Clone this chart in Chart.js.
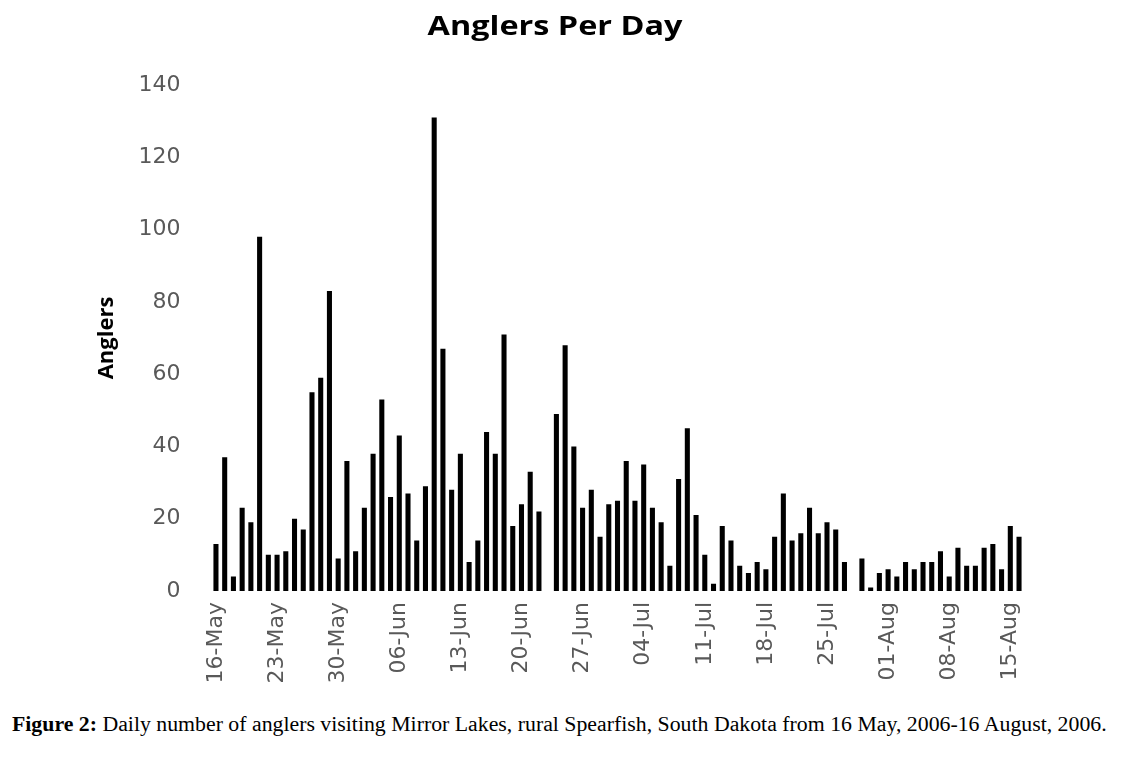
<!DOCTYPE html>
<html>
<head>
<meta charset="utf-8">
<script src="https://cdn.jsdelivr.net/npm/chart.js@4.4.1/dist/chart.umd.min.js"></script>
<style>
  html, body { margin: 0; padding: 0; background: #fff; }
  #wrap { position: relative; width: 1133px; height: 774px; }
  #c { position: absolute; left: 0; top: 0; }
  #caption { position: absolute; left: 12px; top: 713px; font-family: "Liberation Serif", "Times New Roman", serif; font-size: 20px; color: #000; white-space: nowrap; transform: scaleX(1.09); transform-origin: 0 0; }
</style>
</head>
<body>
<div id="wrap">
  <canvas id="c" width="1133" height="693"></canvas>
  <div id="caption"><b>Figure 2:</b> Daily number of anglers visiting Mirror Lakes, rural Spearfish, South Dakota from 16 May, 2006-16 August, 2006.</div>
</div>
<script>
const chartTitle = "Anglers Per Day";
const yAxisTitle = "Anglers";

const categories = [
  "16-May","17-May","18-May","19-May","20-May","21-May","22-May","23-May","24-May","25-May","26-May","27-May","28-May","29-May","30-May","31-May",
  "01-Jun","02-Jun","03-Jun","04-Jun","05-Jun","06-Jun","07-Jun","08-Jun","09-Jun","10-Jun","11-Jun","12-Jun","13-Jun","14-Jun","15-Jun",
  "16-Jun","17-Jun","18-Jun","19-Jun","20-Jun","21-Jun","22-Jun","23-Jun","24-Jun","25-Jun","26-Jun","27-Jun","28-Jun","29-Jun","30-Jun",
  "01-Jul","02-Jul","03-Jul","04-Jul","05-Jul","06-Jul","07-Jul","08-Jul","09-Jul","10-Jul","11-Jul","12-Jul","13-Jul","14-Jul","15-Jul",
  "16-Jul","17-Jul","18-Jul","19-Jul","20-Jul","21-Jul","22-Jul","23-Jul","24-Jul","25-Jul","26-Jul","27-Jul","28-Jul","29-Jul","30-Jul","31-Jul",
  "01-Aug","02-Aug","03-Aug","04-Aug","05-Aug","06-Aug","07-Aug","08-Aug","09-Aug","10-Aug","11-Aug","12-Aug","13-Aug","14-Aug","15-Aug","16-Aug"
];

const anglersMay = [13,37,4,23,19,98,10,10,11,20,17,55,59,83,9,36];
const anglersJun = [11,23,38,53,26,43,27,14,29,131,67,28,38,8,14,44,38,71,18,24,33,22,0,49,68,40,23,28,15,24];
const anglersJul = [25,36,25,35,23,19,7,31,45,21,10,2,18,14,7,5,8,6,15,27,14,16,23,16,19,17,8,0,9,1,5];
const anglersAug = [6,4,8,6,8,8,11,4,12,7,7,12,13,6,18,15];
const anglers = [].concat(anglersMay, anglersJun, anglersJul, anglersAug);

const xTickLabels = ["16-May","23-May","30-May","06-Jun","13-Jun","20-Jun","27-Jun","04-Jul","11-Jul","18-Jul","25-Jul","01-Aug","08-Aug","15-Aug"];
const yTicks = [0,20,40,60,80,100,120,140];

const titlePlugin = {
  id: 'stretchedTitle',
  afterDraw(chart) {
    const ctx = chart.ctx;
    ctx.save();
    ctx.font = 'bold 27px "Open Sans"';
    ctx.fillStyle = '#000';
    ctx.textAlign = 'center';
    ctx.textBaseline = 'middle';
    ctx.translate(555, 27);
    ctx.scale(1.2, 1);
    ctx.fillText(chartTitle, 0, 0);
    ctx.restore();
  }
};

new Chart(document.getElementById('c'), {
  type: 'bar',
  data: {
    labels: categories,
    datasets: [{
      data: anglers,
      backgroundColor: '#000000',
      borderWidth: 0,
      barPercentage: 0.58,
      categoryPercentage: 1.0
    }]
  },
  plugins: [titlePlugin],
  options: {
    responsive: false,
    animation: false,
    layout: { padding: { left: 86.6, right: 109.6, top: 85, bottom: 0 } },
    plugins: {
      legend: { display: false },
      tooltip: { enabled: false },
      title: { display: false }
    },
    scales: {
      x: {
        grid: { display: false, drawTicks: false },
        border: { display: false },
        ticks: {
          autoSkip: false,
          minRotation: 90,
          maxRotation: 90,
          padding: 11,
          color: '#595959',
          font: { family: 'DejaVu Sans', size: 22 },
          callback: function(value, index) {
            const lbl = categories[index];
            return xTickLabels.includes(lbl) ? lbl : '';
          }
        },
        afterFit: function(scale) { scale.height = 102; }
      },
      y: {
        min: 0,
        max: 140,
        grid: { display: false, drawTicks: false },
        border: { display: false },
        afterBuildTicks: function(scale) { scale.ticks = yTicks.map(v => ({ value: v })); },
        ticks: {
          padding: 31,
          color: '#595959',
          font: { family: 'DejaVu Sans', size: 22 }
        },
        title: {
          display: true,
          text: yAxisTitle,
          color: '#000',
          font: { family: 'Open Sans', size: 22, weight: 'bold' },
          padding: { top: 7, bottom: 0 }
        },
        afterFit: function(scale) { scale.width = 125; }
      }
    }
  }
});
</script>
</body>
</html>
